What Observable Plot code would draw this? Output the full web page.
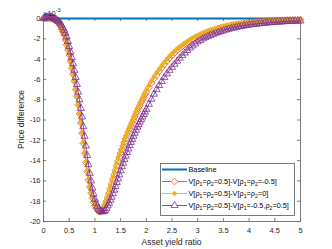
<!DOCTYPE html>
<html><head><meta charset="utf-8">
<script src="https://cdn.jsdelivr.net/npm/d3@7"></script>
<script src="https://cdn.jsdelivr.net/npm/@observablehq/plot@0.6"></script>
<style>body{margin:0;background:#fff} svg{display:block}</style>
</head><body><div id="chart"></div>
<script>
// x sample grid: 0..1.975 step 0.025, then 2..5 step 0.05
const xFine = d3.range(80).map(i => +(i * 0.025).toFixed(3));
const xCoarse = d3.range(61).map(i => +(2 + i * 0.05).toFixed(2));
const xValues = xFine.concat(xCoarse);

// Values in units of 1e-3
const orangeVals = [
 0,0.02,0.03,0.04,0.04,0.03,0.01,-0.03,-0.08,-0.14,-0.2,-0.3,-0.45,-0.7,-1.0,-1.3,-1.6,-2.1,-2.6,-3.1,
 -3.6,-4.2,-4.9,-5.5,-6.2,-7.0,-7.7,-8.5,-9.4,-10.3,-11.3,-12.3,-13.3,-14.2,-15.1,-15.9,-16.6,-17.2,-17.7,-18.1,
 -18.45,-18.7,-18.9,-19.0,-19.05,-19.0,-18.85,-18.65,-18.35,-18.0,-17.6,-17.2,-16.75,-16.3,-15.85,-15.4,-14.95,-14.5,-14.05,-13.65,
 -13.25,-12.9,-12.55,-12.2,-11.85,-11.5,-11.2,-10.9,-10.6,-10.3,-10.0,-9.7,-9.4,-9.15,-8.85,-8.6,-8.3,-8.05,-7.8,-7.5,
 -7.25,-6.8,-6.35,-5.95,-5.55,-5.2,-4.85,-4.5,-4.2,-3.9,-3.65,-3.4,-3.15,-2.95,-2.75,-2.55,-2.38,-2.2,-2.05,-1.9,
 -1.77,-1.65,-1.53,-1.42,-1.32,-1.23,-1.14,-1.06,-0.98,-0.91,-0.85,-0.79,-0.73,-0.68,-0.63,-0.58,-0.54,-0.5,-0.47,-0.43,
 -0.4,-0.36,-0.34,-0.31,-0.29,-0.27,-0.25,-0.24,-0.22,-0.21,-0.19,-0.18,-0.17,-0.16,-0.15,-0.14,-0.13,-0.12,-0.12,-0.11,
 -0.1
];
const yellowVals = [
 0,0.02,0.03,0.04,0.04,0.03,0.01,-0.03,-0.08,-0.14,-0.2,-0.3,-0.4,-0.65,-0.95,-1.25,-1.6,-2.05,-2.55,-3.05,
 -3.6,-4.2,-4.85,-5.5,-6.2,-6.95,-7.7,-8.5,-9.35,-10.25,-11.2,-12.2,-13.2,-14.1,-15.0,-15.8,-16.5,-17.1,-17.6,-18.0,
 -18.35,-18.6,-18.8,-18.9,-18.9,-18.85,-18.7,-18.45,-18.15,-17.8,-17.4,-16.95,-16.5,-16.05,-15.6,-15.15,-14.7,-14.25,-13.8,-13.4,
 -13.0,-12.65,-12.3,-11.95,-11.6,-11.25,-10.95,-10.65,-10.35,-10.05,-9.75,-9.45,-9.15,-8.9,-8.6,-8.35,-8.05,-7.8,-7.55,-7.3,
 -7.05,-6.6,-6.15,-5.75,-5.35,-5.0,-4.65,-4.3,-4.0,-3.7,-3.45,-3.2,-2.97,-2.77,-2.58,-2.4,-2.23,-2.07,-1.92,-1.78,
 -1.66,-1.54,-1.43,-1.33,-1.24,-1.15,-1.07,-0.99,-0.92,-0.85,-0.79,-0.73,-0.68,-0.63,-0.58,-0.54,-0.5,-0.46,-0.43,-0.4,
 -0.37,-0.34,-0.32,-0.29,-0.27,-0.25,-0.23,-0.22,-0.2,-0.19,-0.18,-0.16,-0.15,-0.14,-0.13,-0.12,-0.12,-0.11,-0.1,-0.1,
 -0.09
];
const purpleVals = [
 0,0.05,0.1,0.13,0.15,0.15,0.12,0.08,0.02,-0.05,-0.12,-0.22,-0.32,-0.45,-0.65,-0.9,-1.15,-1.45,-1.8,-2.25,
 -2.75,-3.3,-3.85,-4.45,-5.1,-5.8,-6.5,-7.25,-8.0,-8.85,-9.7,-10.65,-11.6,-12.55,-13.5,-14.4,-15.25,-16.0,-16.7,-17.3,
 -17.8,-18.2,-18.5,-18.75,-18.9,-19.0,-19.05,-19.0,-18.9,-18.7,-18.45,-18.2,-17.9,-17.6,-17.25,-16.9,-16.55,-16.15,-15.8,-15.4,
 -15.0,-14.6,-14.25,-13.9,-13.55,-13.2,-12.85,-12.5,-12.2,-11.9,-11.6,-11.3,-11.0,-10.7,-10.45,-10.2,-9.95,-9.7,-9.45,-9.2,
 -8.95,-8.45,-7.95,-7.45,-7.0,-6.6,-6.2,-5.8,-5.45,-5.1,-4.8,-4.5,-4.2,-3.9,-3.65,-3.4,-3.15,-2.9,-2.7,-2.5,
 -2.3,-2.15,-2.0,-1.88,-1.76,-1.65,-1.55,-1.45,-1.36,-1.28,-1.2,-1.12,-1.05,-0.99,-0.93,-0.87,-0.82,-0.77,-0.72,-0.68,
 -0.64,-0.6,-0.57,-0.54,-0.51,-0.48,-0.46,-0.43,-0.41,-0.39,-0.37,-0.35,-0.34,-0.32,-0.31,-0.29,-0.28,-0.27,-0.26,-0.25,
 -0.24
];
const baselineValue = [0];
const xTicks = [0, 0.5, 1, 1.5, 2, 2.5, 3, 3.5, 4, 4.5, 5];
const yTicks = [-20, -18, -16, -14, -12, -10, -8, -6, -4, -2, 0];
const seriesNames = ["Baseline", "V[ρ_1=ρ_2=0.5]-V[ρ_1=ρ_2=-0.5]", "V[ρ_1=ρ_2=0.5]-V[ρ_1=ρ_2=0]", "V[ρ_1=ρ_2=0.5]-V[ρ_1=-0.5,ρ_2=0.5]"];
const colors = ["#0072BD", "#D95319", "#EDB120", "#7E2F8E"];

const rows = vals => xValues.map((x, i) => ({x, y: vals[i]}));
const orange = rows(orangeVals), yellow = rows(yellowVals), purple = rows(purpleVals);

const W = 332, H = 249, ML = 43, MR = 32, MT = 18, MB = 28;
const pw = W - ML - MR, ph = H - MT - MB;
const axisColor = "#5a5a5a";

const plot = Plot.plot({
  width: W, height: H,
  marginLeft: ML, marginRight: MR, marginTop: MT, marginBottom: MB,
  style: "font-family: 'Liberation Sans', Arial, sans-serif; font-size: 7.5px; color: #262626; background: #fff; overflow: visible;",
  x: {domain: [0, 5]},
  y: {domain: [-20, 0]},
  marks: [
    Plot.axisX({ticks: xTicks, tickSize: 0, tickPadding: 6.5, tickFormat: d => String(d), label: null}),
    Plot.axisY({ticks: yTicks, tickSize: 0, tickPadding: 3, tickFormat: d => String(d), label: null}),
    Plot.tickX(xTicks, {x: d => d, insetTop: ph - 3, stroke: axisColor, strokeWidth: 0.8}),
    Plot.tickX(xTicks, {x: d => d, insetBottom: ph - 3, stroke: axisColor, strokeWidth: 0.8}),
    Plot.tickY(yTicks, {y: d => d, insetRight: pw - 3, stroke: axisColor, strokeWidth: 0.8}),
    Plot.tickY(yTicks, {y: d => d, insetLeft: pw - 3, stroke: axisColor, strokeWidth: 0.8}),
    Plot.frame({stroke: axisColor, strokeWidth: 0.8}),
    Plot.ruleY(baselineValue, {stroke: colors[0], strokeWidth: 2}),
    Plot.line(orange, {x: "x", y: "y", stroke: colors[1], strokeWidth: 0.9}),
    Plot.dot(orange, {x: "x", y: "y", symbol: "diamond2", r: 3, stroke: colors[1], fill: "none", strokeWidth: 0.8}),
    Plot.line(yellow, {x: "x", y: "y", stroke: colors[2], strokeWidth: 0.9}),
    Plot.dot(yellow, {x: "x", y: "y", symbol: "circle", r: 2, fill: colors[2], stroke: colors[2], strokeWidth: 0.5}),
    Plot.line(purple, {x: "x", y: "y", stroke: colors[3], strokeWidth: 0.9}),
    Plot.dot(purple, {x: "x", y: "y", symbol: "triangle2", r: 3.4, stroke: colors[3], fill: "none", strokeWidth: 0.8})
  ]
});
document.getElementById("chart").appendChild(plot);

const svg = d3.select(plot);
const txtColor = "#262626";

function richText(sel, str, subSize) {
  const parts = str.split(/_(\d)/);
  let pendingDy = 0;
  parts.forEach((p, i) => {
    if (!p) return;
    const ts = sel.append("tspan");
    if (i % 2 === 1) {
      ts.attr("dy", 1.6).attr("font-size", subSize).text(p);
      pendingDy = -1.6;
    } else {
      if (pendingDy) ts.attr("dy", pendingDy);
      pendingDy = 0;
      ts.text(p);
    }
  });
}

// axis labels
svg.append("text").attr("x", ML + pw / 2).attr("y", 245).attr("text-anchor", "middle")
  .attr("font-size", 8.5).attr("fill", txtColor).text("Asset yield ratio");
svg.append("text").attr("transform", `translate(24,${MT + ph / 2}) rotate(-90)`).attr("text-anchor", "middle")
  .attr("font-size", 8.5).attr("fill", txtColor).text("Price difference");
const ex = svg.append("text").attr("x", 43).attr("y", 15.5).attr("text-anchor", "start")
  .attr("font-size", 7.5).attr("fill", txtColor);
ex.append("tspan").text("\u00d710");
ex.append("tspan").attr("dy", -4).attr("font-size", 5.5).text("-3");

// legend
const lg = svg.append("g").attr("font-size", 7.3).attr("fill", "#000").attr("text-anchor", "start");
lg.append("rect").attr("x", 160.5).attr("y", 163.5).attr("width", 134).attr("height", 52)
  .attr("fill", "#fff").attr("stroke", axisColor).attr("stroke-width", 0.8);
const rowY = [169.5, 181.5, 193.5, 205.5];
const syms = [null, d3.symbolDiamond2, d3.symbolCircle, d3.symbolTriangle2];
const radii = [0, 3, 2, 3.4];
seriesNames.forEach((name, i) => {
  const y = rowY[i];
  lg.append("line").attr("x1", 162).attr("x2", 187).attr("y1", y).attr("y2", y)
    .attr("stroke", colors[i]).attr("stroke-width", i === 0 ? 2 : 0.9);
  if (syms[i]) {
    const p = lg.append("path").attr("transform", `translate(174.5,${y})`)
      .attr("d", d3.symbol(syms[i], Math.PI * radii[i] * radii[i])());
    if (i === 2) p.attr("fill", colors[i]).attr("stroke", colors[i]).attr("stroke-width", 0.5);
    else p.attr("fill", "#fff").attr("stroke", colors[i]).attr("stroke-width", 0.8);
  }
  const t = lg.append("text").attr("x", 188.5).attr("y", y).attr("dy", "0.35em").attr("text-anchor", "start");
  richText(t, name, 5.2);
});
</script>
</body></html>
